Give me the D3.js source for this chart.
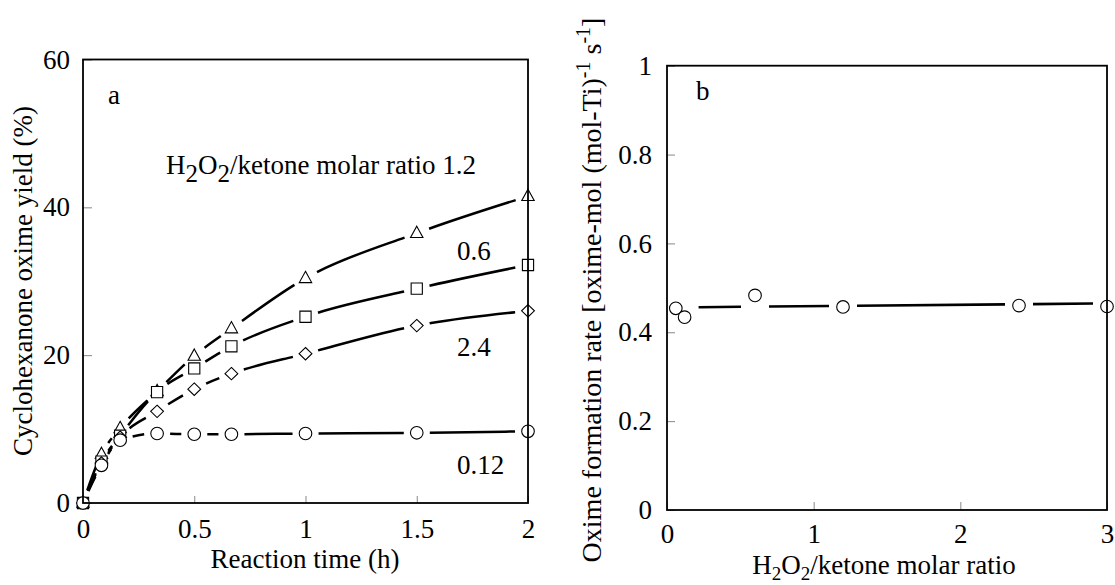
<!DOCTYPE html>
<html>
<head>
<meta charset="utf-8">
<script src="https://cdn.jsdelivr.net/npm/d3@7"></script>
<style>
  body { margin: 0; background: #fff; }
  text { font-family: "Liberation Serif", "Times New Roman", serif; fill: #000; }
</style>
</head>
<body>
<script>
// ---- panel a : oxime yield vs reaction time
var times = [0, 0.083, 0.167, 0.333, 0.5, 0.667, 1, 1.5, 2];
var yield12 = [0, 6.6, 10.1, 15.1, 19.9, 23.6, 30.4, 36.5, 41.5];   // ratio 1.2 (triangles)
var yield06 = [0, 5.6, 9.1, 15.0, 18.2, 21.2, 25.2, 29.0, 32.2];    // ratio 0.6 (squares)
var yield24 = [0, 5.4, 8.9, 12.4, 15.4, 17.5, 20.2, 24.0, 26.0];    // ratio 2.4 (diamonds)
var yield012 = [0, 5.1, 8.5, 9.4, 9.3, 9.3, 9.4, 9.5, 9.7];         // ratio 0.12 (circles)
var timeTicks = [0, 0.5, 1, 1.5, 2];
var yieldTicks = [0, 20, 40, 60];

// ---- panel b : formation rate vs H2O2/ketone ratio
var ratios = [0.06, 0.12, 0.6, 1.2, 2.4, 3.0];
var rates = [0.454, 0.434, 0.483, 0.457, 0.460, 0.458];
var fitRatio = [0.06, 3.0];
var fitRate = [0.456, 0.465];
var ratioTicks = [0, 1, 2, 3];
var rateTicks = [0, 0.2, 0.4, 0.6, 0.8, 1];

var W = 1115, H = 585;
var FONT = '"Liberation Serif", "Times New Roman", serif';
var svg = d3.select("body").append("svg").attr("width", W).attr("height", H);

// marker shapes
var triShape = { draw: function(c) { c.moveTo(0, -7); c.lineTo(6.2, 4.3); c.lineTo(-6.2, 4.3); c.closePath(); } };
var sqShape = { draw: function(c) { c.rect(-5.6, -5.6, 11.2, 11.2); } };
var diaShape = { draw: function(c) { c.moveTo(0, -6.2); c.lineTo(6.4, 0); c.lineTo(0, 6.2); c.lineTo(-6.4, 0); c.closePath(); } };
var cirShape = { draw: function(c) { c.moveTo(6.3, 0); c.arc(0, 0, 6.3, 0, 2 * Math.PI); } };

// break a path around the marker x positions
function gapDashes(path, xs, g) {
  var node = path.node();
  var total = node.getTotalLength();
  var lens = xs.map(function(x) {
    var lo = 0, hi = total;
    for (var k = 0; k < 30; k++) {
      var mid = (lo + hi) / 2;
      if (node.getPointAtLength(mid).x < x) lo = mid; else hi = mid;
    }
    return (lo + hi) / 2;
  });
  var parts = [0], cur = 0;
  for (var i = 0; i < lens.length - 1; i++) {
    var a = lens[i] + g, b = lens[i + 1] - g;
    if (b - a < 3) continue;
    parts.push(a - cur, b - a);
    cur = b;
  }
  parts.push(total - cur + 20);
  path.attr("stroke-dasharray", parts.join(","));
}

function styleAxis(g) {
  g.attr("font-family", null);
  g.select(".domain").remove();
  g.selectAll(".tick line").attr("stroke", "#888").attr("stroke-width", 1);
  g.selectAll(".tick text").style("font-family", FONT).style("font-size", "27px").attr("fill", "#000");
}

// ================= panel a =================
var xA = d3.scaleLinear().domain([0, 2]).range([83, 528]);
var yA = d3.scaleLinear().domain([0, 60]).range([503, 59.5]);

svg.append("g").attr("transform", "translate(0,503)")
  .call(d3.axisBottom(xA).tickValues(timeTicks).tickFormat(String).tickSizeInner(-7).tickSizeOuter(0).tickPadding(16))
  .call(styleAxis);
svg.append("g").attr("transform", "translate(83,0)")
  .call(d3.axisLeft(yA).tickValues(yieldTicks).tickFormat(String).tickSizeInner(-9).tickSizeOuter(0).tickPadding(13))
  .call(styleAxis);

var seriesA = [
  { vals: yield12, shape: triShape },
  { vals: yield06, shape: sqShape },
  { vals: yield24, shape: diaShape },
  { vals: yield012, shape: cirShape }
];

var lineA = d3.line().curve(d3.curveMonotoneX)
  .x(function(d) { return xA(d[0]); })
  .y(function(d) { return yA(d[1]); });

seriesA.forEach(function(s) {
  var pts = times.map(function(t, i) { return [t, s.vals[i]]; });
  var p = svg.append("path").datum(pts)
    .attr("d", lineA)
    .attr("fill", "none")
    .attr("stroke", "#000")
    .attr("stroke-width", 2.5);
  gapDashes(p, times.map(xA), 13);
});
seriesA.forEach(function(s) {
  svg.selectAll(null).data(times).enter().append("path")
    .attr("d", d3.symbol().type(s.shape))
    .attr("transform", function(t, i) { return "translate(" + xA(t) + "," + yA(s.vals[i]) + ")"; })
    .attr("fill", "#fff")
    .attr("stroke", "#000")
    .attr("stroke-width", 1.1);
});

svg.append("rect").attr("x", 83).attr("y", 59.5).attr("width", 445).attr("height", 443.5)
  .attr("fill", "none").attr("stroke", "#000").attr("stroke-width", 1.8);

svg.append("text").attr("x", 108).attr("y", 104).style("font-size", "27px").text("a");

// annotation: H2O2/ketone molar ratio 1.2
var ann = svg.append("text").attr("x", 166).attr("y", 174).style("font-size", "27px");
ann.append("tspan").text("H");
ann.append("tspan").attr("dy", 8).style("font-size", "25px").text("2");
ann.append("tspan").attr("dy", -8).text("O");
ann.append("tspan").attr("dy", 8).style("font-size", "25px").text("2");
ann.append("tspan").attr("dy", -8).text("/ketone molar ratio 1.2");

svg.append("text").attr("x", 457).attr("y", 260).style("font-size", "27px").text("0.6");
svg.append("text").attr("x", 457).attr("y", 356).style("font-size", "27px").text("2.4");
svg.append("text").attr("x", 457).attr("y", 474).style("font-size", "27px").text("0.12");

svg.append("text").attr("text-anchor", "middle")
  .attr("x", 305).attr("y", 568).style("font-size", "27px").text("Reaction time (h)");
svg.append("text").attr("text-anchor", "middle").attr("transform", "rotate(-90)")
  .attr("x", -281).attr("y", 32).style("font-size", "27px").text("Cyclohexanone oxime yield (%)");

// ================= panel b =================
var xB = d3.scaleLinear().domain([0, 3]).range([667, 1107]);
var yB = d3.scaleLinear().domain([0, 1]).range([510, 65.7]);

svg.append("g").attr("transform", "translate(0,510)")
  .call(d3.axisBottom(xB).tickValues(ratioTicks).tickFormat(String).tickSizeInner(-8).tickSizeOuter(0).tickPadding(14))
  .call(styleAxis);
svg.append("g").attr("transform", "translate(667,0)")
  .call(d3.axisLeft(yB).tickValues(rateTicks).tickFormat(String).tickSizeInner(-8).tickSizeOuter(0).tickPadding(15))
  .call(styleAxis);

var fitPts = fitRatio.map(function(r, i) { return [r, fitRate[i]]; });
var fitPath = svg.append("path").datum(fitPts)
  .attr("d", d3.line().x(function(d) { return xB(d[0]); }).y(function(d) { return yB(d[1]); }))
  .attr("fill", "none").attr("stroke", "#000").attr("stroke-width", 2.6);
gapDashes(fitPath, ratios.map(xB), 14);

svg.selectAll(null).data(ratios).enter().append("path")
  .attr("d", d3.symbol().type(cirShape))
  .attr("transform", function(r, i) { return "translate(" + xB(r) + "," + yB(rates[i]) + ")"; })
  .attr("fill", "#fff").attr("stroke", "#000").attr("stroke-width", 1.1);

svg.append("rect").attr("x", 667).attr("y", 65.7).attr("width", 440).attr("height", 444.3)
  .attr("fill", "none").attr("stroke", "#000").attr("stroke-width", 1.8);

svg.append("text").attr("x", 696).attr("y", 100).style("font-size", "27px").text("b");

var xlb = svg.append("text").attr("text-anchor", "middle")
  .attr("x", 884).attr("y", 574).style("font-size", "27px");
xlb.append("tspan").text("H");
xlb.append("tspan").attr("dy", 6).style("font-size", "19px").text("2");
xlb.append("tspan").attr("dy", -6).text("O");
xlb.append("tspan").attr("dy", 6).style("font-size", "19px").text("2");
xlb.append("tspan").attr("dy", -6).text("/ketone molar ratio");

var ylb = svg.append("text").attr("text-anchor", "middle").attr("transform", "rotate(-90)")
  .attr("x", -290).attr("y", 601).style("font-size", "28px");
ylb.append("tspan").text("Oxime formation rate [oxime-mol (mol-Ti)");
ylb.append("tspan").attr("dy", -11).style("font-size", "20px").text("-1");
ylb.append("tspan").attr("dy", 11).text(" s");
ylb.append("tspan").attr("dy", -11).style("font-size", "20px").text("-1");
ylb.append("tspan").attr("dy", 11).text("]");
</script>
</body>
</html>
